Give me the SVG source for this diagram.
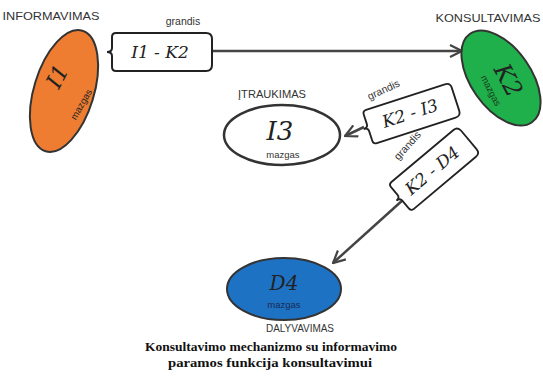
<svg xmlns="http://www.w3.org/2000/svg" width="543" height="382" viewBox="0 0 543 382">
<defs>
<style>
.lbl{font-family:"Liberation Sans",Arial,sans-serif;font-size:10.5px;fill:#333;text-anchor:middle}
.scr{font-family:"DejaVu Serif","Liberation Serif",serif;font-style:italic;fill:#222;text-anchor:middle}
.maz{font-family:"Liberation Sans",Arial,sans-serif;font-size:9.5px;text-anchor:middle}
.box{fill:#fff;stroke:#222;stroke-width:2}
.conn{stroke:#444;stroke-width:2.5;fill:none}
.cap{font-family:"Liberation Serif","Times New Roman",serif;font-weight:bold;font-size:12.5px;fill:#111;text-anchor:middle}
</style>
<marker id="arr" viewBox="0 0 14 14" refX="13" refY="7" markerWidth="14" markerHeight="14" markerUnits="userSpaceOnUse" orient="auto">
<path d="M1,1 L13,7 L1,13" fill="none" stroke="#444" stroke-width="2.2"/>
</marker>
<path id="tag" d="M-44,-19 H46 Q52,-19 52,-13 V13 Q52,19 46,19 H-44 Q-48,19 -48,15 V4 Q-48,0 -53,0 Q-48,0 -48,-4 V-15 Q-48,-19 -44,-19 Z"/>
</defs>
<rect width="543" height="382" fill="#fff"/>

<g id="connectors">
<line class="conn" x1="212" y1="51" x2="462" y2="51" marker-end="url(#arr)"/>
<line class="conn" x1="364" y1="127" x2="345" y2="136" marker-end="url(#arr)"/>
<line class="conn" x1="404" y1="199" x2="333" y2="263" marker-end="url(#arr)"/>
</g>

<g id="edge-I1-K2">
<use href="#tag" class="box" transform="translate(160,52)"/>
<text class="scr" x="160" y="58" font-size="17">I1 - K2</text>
<text class="lbl" x="183" y="25">grandis</text>
</g>

<g id="edge-K2-I3">
<use href="#tag" class="box" transform="translate(410,114) rotate(-18) scale(0.92,0.92)"/>
<text class="scr" font-size="17" transform="translate(412,119) rotate(-18)">K2 - I3</text>
<text class="lbl" transform="translate(385,93) rotate(-25)">grandis</text>
</g>

<g id="edge-K2-D4">
<use href="#tag" class="box" transform="translate(433,170) rotate(-40) scale(0.9,0.92)"/>
<text class="scr" font-size="17" transform="translate(436,175) rotate(-40)">K2 - D4</text>
<text class="lbl" transform="translate(410,148) rotate(-48)">grandis</text>
</g>

<g id="node-I1">
<text class="lbl" x="51" y="20" textLength="97" lengthAdjust="spacingAndGlyphs">INFORMAVIMAS</text>
<ellipse cx="64" cy="91" rx="63" ry="30" transform="rotate(-73 64 91)" fill="#EE7D31" stroke="#333" stroke-width="2"/>
<text class="scr" font-size="22" transform="translate(64,80) rotate(-62)">I1</text>
<text class="maz" fill="#222" transform="translate(84,106) rotate(-60)">mazgas</text>
</g>

<g id="node-K2">
<text class="lbl" x="488" y="22" textLength="105" lengthAdjust="spacingAndGlyphs">KONSULTAVIMAS</text>
<ellipse cx="501" cy="78" rx="54" ry="30" transform="rotate(55 501 78)" fill="#1FB04B" stroke="#333" stroke-width="2"/>
<text class="scr" font-size="24" transform="translate(501,84) rotate(62)">K2</text>
<text class="maz" fill="#1a3a1a" transform="translate(488,92) rotate(63)">mazgas</text>
</g>

<g id="node-I3">
<text class="lbl" x="272" y="98" textLength="68" lengthAdjust="spacingAndGlyphs">ĮTRAUKIMAS</text>
<ellipse cx="282" cy="135" rx="58" ry="30" fill="#fff" stroke="#333" stroke-width="2.5"/>
<text class="scr" x="280" y="140" font-size="26">I3</text>
<text class="maz" x="283" y="158" fill="#333">mazgas</text>
</g>

<g id="node-D4">
<ellipse cx="284" cy="289" rx="57" ry="31" fill="#1E72C4" stroke="#333" stroke-width="2"/>
<text class="scr" x="284" y="290" font-size="20" fill="#1a2a55">D4</text>
<text class="maz" x="284" y="308" fill="#1a2a55">mazgas</text>
<text class="lbl" x="300" y="332" textLength="68" lengthAdjust="spacingAndGlyphs">DALYVAVIMAS</text>
</g>

<g id="caption">
<text class="cap" x="271" y="351" textLength="252" lengthAdjust="spacingAndGlyphs">Konsultavimo mechanizmo su informavimo</text>
<text class="cap" x="270" y="367" textLength="204" lengthAdjust="spacingAndGlyphs">paramos funkcija konsultavimui</text>
</g>
</svg>
